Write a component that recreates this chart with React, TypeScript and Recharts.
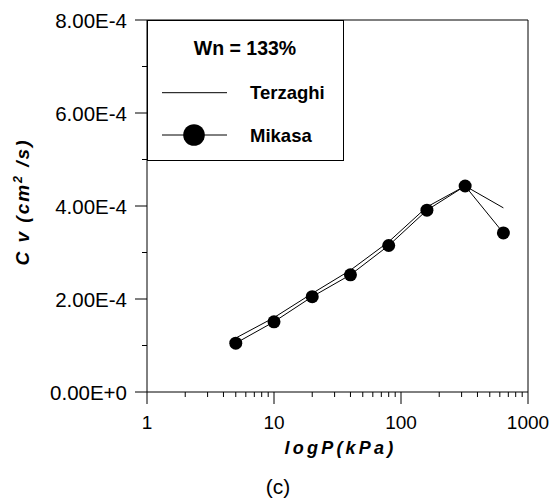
import React from 'react';
import { ComposedChart, Line, XAxis, YAxis, ReferenceLine, Legend } from 'recharts';

// ---- data ----
const pressures = [5, 10, 20, 40, 80, 160, 320, 640];
const terzaghi = [1.16e-4, 1.6e-4, 2.12e-4, 2.62e-4, 3.23e-4, 3.98e-4, 4.43e-4, 3.96e-4];
const mikasa = [1.05e-4, 1.51e-4, 2.05e-4, 2.52e-4, 3.15e-4, 3.91e-4, 4.43e-4, 3.42e-4];
const seriesNames = ['Terzaghi', 'Mikasa'];
const legendTitle = 'Wn = 133%';
const xTicks = [1, 2, 3, 4, 5, 6, 7, 8, 9, 10, 20, 30, 40, 50, 60, 70, 80, 90, 100, 200, 300, 400, 500, 600, 700, 800, 900, 1000];
const xMajor = [1, 10, 100, 1000];
const yTicks = [0, 0.0001, 0.0002, 0.0003, 0.0004, 0.0005, 0.0006, 0.0007, 0.0008];
const yMajor = [0, 0.0002, 0.0004, 0.0006, 0.0008];
const xTitle = 'logP(kPa)';
const caption = '(c)';

const data = pressures.map((p, i) => ({ p, terzaghi: terzaghi[i], mikasa: mikasa[i] }));

const FONT = '"Liberation Sans", Arial, sans-serif';

const XTick = (props: any) => {
  const { x, y, payload } = props;
  const v = payload.value;
  const major = xMajor.some((m) => Math.abs(m - v) < 1e-9);
  return (
    <g>
      <line x1={x} x2={x} y1={y} y2={y + (major ? 12 : 5)} stroke="#000" strokeWidth={1} />
      {major && (
        <text x={x} y={y + 37} textAnchor="middle" fontSize={19} fontFamily={FONT} fill="#000">
          {String(v)}
        </text>
      )}
    </g>
  );
};

const YTick = (props: any) => {
  const { x, y, payload } = props;
  const v = payload.value;
  const major = yMajor.some((m) => Math.abs(m - v) < 1e-12);
  return (
    <g>
      <line x1={x} x2={x - (major ? 12 : 5)} y1={y} y2={y} stroke="#000" strokeWidth={1} />
      {major && (
        <text x={x - 20} y={y + 8} textAnchor="end" fontSize={20.5} fontFamily={FONT} fill="#000">
          {v.toExponential(2).toUpperCase()}
        </text>
      )}
    </g>
  );
};

const YTitle = (props: any) => {
  const vb = props.viewBox || { x: 0, y: 20, width: 147, height: 372 };
  const cx = vb.x + 29;
  const cy = vb.y + vb.height / 2 - 4;
  return (
    <text
      x={cx}
      y={cy}
      transform={`rotate(-90, ${cx}, ${cy})`}
      textAnchor="middle"
      fontSize={19}
      fontWeight="bold"
      fontStyle="italic"
      fontFamily={FONT}
      letterSpacing={2}
      fill="#000"
    >
      C v (cm<tspan fontSize={12.5} dy={-7}>2</tspan>
      <tspan dy={7}> /s)</tspan>
    </text>
  );
};

const XTitle = (props: any) => {
  const vb = props.viewBox || { x: 147, y: 392, width: 381, height: 110 };
  return (
    <g>
      <text
        x={vb.x + vb.width / 2 + 3}
        y={vb.y + 62}
        textAnchor="middle"
        fontSize={18}
        fontWeight="bold"
        fontStyle="italic"
        fontFamily={FONT}
        letterSpacing={3.2}
        fill="#000"
      >
        {xTitle}
      </text>
      <text x={vb.x + 131} y={vb.y + 102} textAnchor="middle" fontSize={21} fontFamily={FONT} fill="#000">
        {caption}
      </text>
    </g>
  );
};

const LegendBox = (props: any) => {
  const payload = props.payload || [];
  const items = seriesNames.map((n, i) => {
    const found = payload.find((p: any) => p.value === n);
    return { name: found ? found.value : n, dot: i === 1 };
  });
  const rows = [72.7, 115];
  return (
    <svg width={197} height={141} style={{ display: 'block' }}>
      <rect x={0.5} y={0.5} width={196} height={140} fill="#fff" stroke="#000" strokeWidth={1} />
      <text x={98} y={35} textAnchor="middle" fontSize={19.5} fontWeight="bold" fontFamily={FONT} fill="#000">
        {legendTitle}
      </text>
      {items.map((it: any, i: number) => (
        <g key={it.name}>
          <line x1={15} x2={80} y1={rows[i]} y2={rows[i]} stroke="#000" strokeWidth={1} />
          {it.dot && <circle cx={47} cy={rows[i]} r={10.8} fill="#000" />}
          <text x={103} y={rows[i] + 6.5} fontSize={18.5} fontWeight="bold" fontFamily={FONT} fill="#000">
            {it.name}
          </text>
        </g>
      ))}
    </svg>
  );
};

export default function App() {
  return (
    <div style={{ position: 'absolute', left: 0, top: 0, width: 554, height: 502, background: '#fff' }}>
      <ComposedChart width={554} height={502} data={data} margin={{ top: 20, right: 26, left: 0, bottom: 0 }}>
        <XAxis
          dataKey="p"
          type="number"
          scale="log"
          domain={[1, 1000]}
          allowDataOverflow
          ticks={xTicks}
          interval={0}
          tickSize={0}
          tickMargin={0}
          tickLine={false}
          tick={<XTick />}
          height={110}
          axisLine={{ stroke: '#000', strokeWidth: 1 }}
          label={{ content: <XTitle /> }}
        />
        <YAxis
          type="number"
          domain={[0, 0.0008]}
          allowDataOverflow
          ticks={yTicks}
          interval={0}
          tickSize={0}
          tickMargin={0}
          tickLine={false}
          tick={<YTick />}
          width={147}
          axisLine={{ stroke: '#000', strokeWidth: 1 }}
          label={{ content: <YTitle /> }}
        />
        <ReferenceLine x={1000} stroke="#000" strokeWidth={1} />
        <ReferenceLine y={0.0008} stroke="#000" strokeWidth={1} />
        <Legend
          layout="horizontal"
          verticalAlign="middle"
          align="center"
          content={<LegendBox />}
          wrapperStyle={{ position: 'absolute', left: 147, top: 20, width: 197, height: 141 }}
        />
        <Line
          name={seriesNames[0]}
          dataKey="terzaghi"
          stroke="#000"
          strokeWidth={1}
          dot={false}
          activeDot={false}
          isAnimationActive={false}
        />
        <Line
          name={seriesNames[1]}
          dataKey="mikasa"
          stroke="#000"
          strokeWidth={1}
          dot={{ r: 6.5, fill: '#000', stroke: '#000', strokeWidth: 0 }}
          activeDot={false}
          isAnimationActive={false}
        />
      </ComposedChart>
    </div>
  );
}
